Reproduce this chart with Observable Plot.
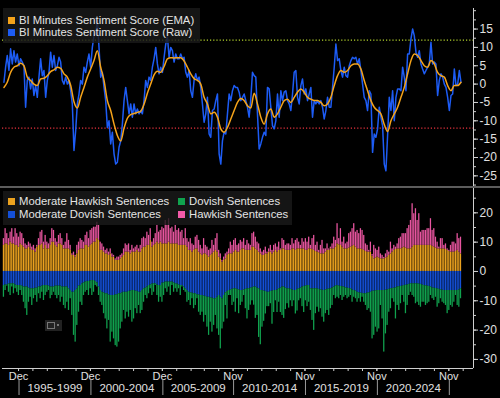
<!DOCTYPE html>
<html><head><meta charset="utf-8">
<script src="https://cdn.jsdelivr.net/npm/d3@7"></script>
<script src="https://cdn.jsdelivr.net/npm/@observablehq/plot@0.6"></script>
<style>
html,body{margin:0;padding:0;background:#000;}
#wrap{position:relative;width:500px;height:398px;background:#000;overflow:hidden;font-family:"Liberation Sans",Arial,sans-serif;}
#wrap svg{position:absolute;left:0;}
.lg{position:absolute;background:rgba(26,26,26,0.82);}
.it{position:absolute;color:#e4e4e4;font-size:11.3px;line-height:12px;white-space:nowrap;}
.sq{position:absolute;width:7px;height:7px;}
.sep{position:absolute;left:0;top:186px;width:500px;height:2px;background:#5c5c5c;}
.icon{position:absolute;left:45px;top:320px;width:17px;height:11px;background:#222;}
.icon i{position:absolute;left:2px;top:2px;width:6px;height:5px;border:1px solid #777;}
.icon b{position:absolute;left:12px;top:4px;width:2px;height:2px;background:#777;}
</style></head>
<body><div id="wrap"></div>
<script>
// time span covered by the samples (decimal years)
const startYear = 1993.90, endYear = 2025.68;

const rawScore = [
0.5,4.6,7.8,3.7,9.6,5.5,9.1,6.0,8.2,5.0,
6.9,6.0,5.0,-6.3,1.0,1.9,-1.3,1.4,-3.1,-0.4,
-3.6,1.9,6.9,2.3,3.7,-3.6,1.0,3.2,8.7,4.6,
7.8,3.7,5.0,7.3,6.0,1.0,0.0,1.9,0.0,1.0,
-1.8,-5.4,-18.1,-12.7,-5.4,-2.7,1.0,0.0,4.6,3.2,
6.0,8.2,4.6,10.0,13.2,13.7,17.3,10.0,1.9,3.2,
-0.9,-4.5,-11.8,-10.0,-16.3,-13.1,-19.0,-21.8,-21.3,-17.2,
-15.5,-10.9,-4.5,-0.9,-4.5,-8.1,-5.4,-9.0,-5.4,-8.1,
-6.8,-8.1,-7.2,-8.1,-4.5,1.0,-0.9,1.9,1.0,4.6,
6.9,10.0,5.5,2.8,4.6,3.2,7.3,10.9,13.0,7.3,
10.0,9.1,6.0,8.2,6.9,6.9,8.2,6.9,7.3,3.2,
1.9,3.7,-1.8,-3.6,1.0,2.8,1.0,1.9,-0.9,-5.4,
-10.4,-8.1,-3.6,-13.6,-14.5,-7.2,-6.8,-4.5,-2.7,-19.0,
-21.8,-15.4,-13.1,-13.6,-8.1,-2.7,-4.5,-1.8,-0.4,-0.9,
-0.9,-2.2,-4.5,-3.6,-2.7,-4.5,-6.3,-9.0,-4.0,3.2,
2.3,1.9,-8.1,-17.7,-16.3,-14.5,-13.1,-14.0,-0.9,-1.3,
-6.3,-11.3,-12.2,-10.0,-2.7,-9.0,-1.8,-4.5,-2.2,-1.8,
-4.5,-5.4,-7.2,-2.7,3.2,3.7,-3.6,-5.4,-0.4,1.4,
-2.7,-1.3,-4.5,-2.7,-0.9,-9.0,-4.5,-5.4,-4.5,-5.4,
-4.5,-6.3,-9.5,-7.2,-3.6,-6.3,-6.3,-0.9,4.6,10.9,
6.4,6.9,3.7,1.9,4.6,2.3,1.9,5.0,6.4,7.3,
6.9,7.3,5.5,6.9,3.7,0.0,-3.6,-4.5,-7.2,-1.8,
-2.7,-18.6,-13.6,-14.5,-12.2,-6.3,-9.0,-11.3,-21.8,-23.6,
-14.0,-3.6,-7.2,-1.8,-10.0,-3.6,-1.3,-1.3,-1.8,4.6,
1.9,-1.8,8.2,8.2,12.3,15.0,13.2,8.7,7.3,9.1,
5.5,4.1,2.8,3.7,4.6,5.5,11.4,5.5,6.0,5.5,
-3.1,1.0,2.8,1.9,0.0,-0.9,-3.6,-7.2,-3.1,-2.7,
4.1,-0.4,0.0,3.7,0.5];

// EMA read at every second sample
const emaScore = [
-0.9,0.5,3.2,4.6,5.0,5.7,5.0,1.9,1.0,0.0,
-0.4,1.4,1.6,2.3,3.4,3.9,4.6,4.3,2.8,1.9,
-0.3,-4.8,-6.5,-3.6,-0.9,1.9,4.1,6.4,9.1,4.6,
1.0,-4.5,-7.2,-10.9,-14.0,-15.5,-12.0,-9.3,-8.3,-8.0,
-7.7,-7.4,-5.5,-2.5,0.0,2.5,3.5,3.2,4.8,6.9,
7.2,7.1,7.2,7.2,6.3,4.6,2.8,1.5,1.0,0.0,
-3.6,-5.4,-8.1,-7.7,-9.0,-12.2,-13.1,-11.8,-9.5,-7.2,
-5.0,-3.9,-4.5,-5.9,-6.5,-2.5,-5.4,-9.0,-10.9,-8.1,
-6.8,-9.0,-8.1,-6.3,-4.5,-4.1,-5.0,-3.6,-2.2,-1.3,
-2.2,-3.6,-4.1,-4.5,-4.5,-5.0,-5.9,-5.4,-3.6,-0.4,
2.3,3.7,3.2,3.7,5.0,5.5,5.5,4.1,1.0,-1.8,
-4.5,-6.3,-7.2,-8.1,-11.0,-12.9,-10.0,-8.1,-6.3,-3.6,
-0.9,2.8,6.4,8.2,7.8,6.4,5.0,4.6,6.4,5.5,
3.2,2.3,1.9,-0.4,-1.8,-0.4,-0.4,0.5];

const modHawkish = [
8.9,9.4,9.4,8.9,10.0,9.4,9.4,8.9,8.9,8.3,
9.4,8.9,8.3,7.7,7.7,8.3,7.7,7.2,7.2,6.6,
8.3,8.9,8.9,9.4,7.7,8.9,7.7,7.7,8.9,10.0,
10.0,8.9,8.3,9.4,9.4,8.9,7.7,7.7,7.7,7.7,
7.2,5.5,5.5,4.9,6.0,7.2,7.7,7.7,7.7,8.9,
8.9,8.3,8.9,9.4,10.0,10.0,11.2,10.6,7.2,7.2,
6.6,6.0,6.0,5.5,6.0,4.9,4.9,3.8,3.8,3.8,
4.3,4.9,5.5,6.6,6.6,6.6,6.0,6.6,6.6,6.6,
7.2,6.6,6.6,7.7,8.3,8.3,8.9,8.9,10.6,8.3,
8.9,9.4,10.0,9.4,10.0,
9.4,9.4,9.4,9.4,10.0,9.4,9.4,9.4,9.4,9.4,
8.9,8.9,8.9,8.9,8.9,8.3,7.2,7.2,6.6,7.2,
7.7,7.7,6.6,6.0,5.5,6.0,6.0,5.5,4.9,5.5,
6.0,6.6,7.2,6.6,4.9,4.3,3.2,3.8,4.3,5.5,
6.0,6.0,6.0,6.6,7.2,6.6,6.6,7.2,7.7,7.7,
7.2,7.2,7.2,7.2,8.3,8.3,7.7,7.2,6.6,6.0,
5.5,5.5,6.0,6.0,6.6,6.6,6.0,6.6,7.2,6.6,
7.2,7.2,7.7,7.7,7.2,7.2,7.2,7.2,7.7,7.7,
7.2,7.7,7.7,7.7,7.7,7.7,7.2,7.2,7.7,
7.7,7.5,7.2,6.8,6.6,6.4,6.0,6.0,6.0,6.6,
7.2,7.2,7.7,7.7,7.7,8.3,9.4,9.1,8.9,8.3,
7.7,7.7,7.7,8.0,8.3,8.6,8.9,8.3,7.7,7.7,
7.7,7.5,7.2,6.8,6.6,6.6,6.6,5.2,4.3,4.6,
4.9,4.6,4.3,4.3,4.3,4.6,4.9,5.5,6.0,6.6,
7.2,7.5,7.7,7.7,7.7,8.0,8.3,8.0,7.7,7.7,
7.7,8.3,8.9,8.9,8.9,8.9,8.9,8.9,8.9,8.9,
8.9,8.9,8.9,8.6,8.3,8.0,7.7,7.7,7.7,7.7,
7.7,7.5,7.2,6.8,6.6,6.6,6.6,6.8,7.2,6.6,
6.0];

const hawkish = [
2.3,5.2,3.5,2.3,3.4,5.2,2.3,5.7,4.0,3.4,
4.0,4.0,2.9,1.7,1.2,1.7,1.7,1.1,1.7,1.1,
0.6,2.3,4.5,4.6,2.3,3.4,2.3,1.7,2.3,4.6,
4.0,2.3,1.7,2.9,3.5,2.3,1.2,2.3,5.2,2.9,
1.7,0.5,1.1,0.6,2.9,2.8,3.5,2.9,2.3,3.4,
4.5,2.9,5.1,5.2,5.1,5.1,5.6,5.1,2.8,2.2,
1.7,1.2,1.7,1.1,1.7,1.1,0.6,0.5,1.1,1.1,
1.2,1.1,2.2,2.8,2.3,2.8,1.2,2.3,1.1,1.7,
1.7,1.1,2.3,3.5,3.4,2.9,4.5,3.4,4.0,1.7,
2.3,3.5,5.7,4.0,4.0,
5.7,5.2,8.0,6.3,8.0,5.2,5.7,4.0,6.3,4.6,
5.7,4.5,5.1,2.3,5.7,2.9,2.8,4.0,2.8,1.7,
4.0,4.6,4.0,2.9,2.2,5.2,2.9,2.8,2.3,2.2,
4.6,2.3,4.0,6.3,2.3,1.7,0.6,1.1,1.7,1.1,
1.7,4.0,2.9,4.0,4.0,2.3,2.8,3.4,2.3,3.5,
1.7,3.4,2.2,1.7,4.6,5.1,4.0,2.8,2.8,1.7,
1.1,1.7,2.3,0.6,1.1,2.3,1.2,2.3,2.2,1.7,
2.8,0.5,3.5,2.9,1.7,2.2,2.2,1.7,3.5,1.7,
3.4,3.5,2.3,1.2,3.5,2.3,4.0,2.8,4.0,
1.2,3.7,5.1,2.1,3.4,0.8,2.9,4.6,1.7,1.1,
2.2,0.5,0.6,1.7,4.0,2.3,6.9,2.1,5.7,1.7,
4.0,1.7,2.3,4.9,5.1,6.0,7.4,5.1,6.3,5.2,
6.9,6.5,5.1,2.6,2.3,0.6,3.4,0.6,4.6,3.1,
2.3,3.7,1.7,1.2,0.5,1.4,2.3,1.1,4.0,1.1,
1.7,0.8,1.7,3.5,4.0,4.9,4.6,4.9,6.9,8.0,
9.7,14.8,10.8,12.5,8.5,10.8,4.5,5.1,5.1,5.1,
5.7,5.7,9.1,5.4,6.3,3.7,2.3,0.6,3.5,3.5,
1.2,1.9,0.5,0.4,2.3,3.4,3.4,2.6,5.7,4.6,
5.7];

const modDovish = [
-4.8,-4.6,-4.6,-4.3,-4.2,-4.2,-4.2,-4.6,-4.8,-4.8,
-4.8,-5.0,-5.3,-5.3,-5.3,-5.7,-5.9,-5.9,-5.9,-5.7,
-5.7,-5.3,-5.3,-5.0,-4.8,-4.8,-4.8,-5.0,-5.3,-5.3,
-5.3,-5.0,-5.0,-5.0,-5.0,-5.3,-5.3,-5.3,-5.3,-5.9,
-6.5,-7.1,-7.1,-6.5,-5.9,-5.0,-4.8,-4.2,-3.9,-3.6,
-3.4,-3.4,-3.2,-3.1,-3.1,-3.4,-3.9,-5.3,-6.5,-7.1,
-7.3,-7.6,-7.6,-8.0,-8.2,-8.2,-8.2,-8.0,-7.9,-7.6,
-7.6,-7.3,-7.1,-7.1,-7.1,-6.8,-6.7,-6.5,-6.5,-6.7,
-6.8,-7.1,-7.1,-6.5,-5.9,-5.7,-5.3,-4.8,-4.6,-4.3,
-4.2,-4.2,-4.6,-4.8,-4.8,
-4.0,-3.9,-3.6,-3.6,-3.6,-3.6,-3.6,-3.9,-4.2,-4.3,
-4.6,-4.8,-4.8,-5.3,-5.9,-6.5,-7.1,-7.3,-7.4,-7.6,
-7.6,-7.9,-8.0,-8.2,-8.2,-8.4,-8.5,-8.8,-8.8,-9.0,
-9.1,-9.3,-9.3,-8.8,-8.2,-8.8,-9.3,-8.2,-7.3,-6.8,
-6.5,-6.3,-6.1,-5.9,-5.9,-6.1,-6.3,-6.5,-6.5,-6.3,
-6.1,-5.9,-5.9,-5.7,-5.5,-5.3,-5.3,-5.7,-5.9,-6.5,
-6.5,-6.7,-6.8,-7.1,-7.1,-6.8,-6.7,-6.5,-6.5,-6.3,
-5.9,-5.7,-5.3,-5.3,-5.7,-5.9,-5.9,-6.1,-6.3,-6.5,
-6.5,-6.1,-5.9,-5.7,-5.3,-5.1,-5.0,-4.8,-4.8,
-5.9,-5.9,-5.9,-5.9,-5.9,-6.1,-6.3,-6.4,-6.5,-6.3,
-6.1,-6.0,-5.9,-5.6,-5.3,-5.0,-4.8,-5.0,-5.1,-5.2,
-5.3,-5.6,-5.7,-5.8,-5.9,-6.3,-6.5,-6.7,-7.1,-7.3,
-7.4,-7.5,-7.6,-7.6,-7.4,-7.3,-7.1,-6.8,-6.7,-6.6,
-6.5,-6.5,-6.5,-6.5,-6.5,-6.4,-6.3,-6.1,-5.9,-5.8,
-5.7,-5.6,-5.3,-5.2,-5.1,-5.0,-4.8,-4.7,-4.6,-4.4,
-4.2,-4.2,-4.2,-4.2,-4.2,-4.3,-4.4,-4.6,-4.8,-4.9,
-5.0,-5.1,-5.3,-5.6,-5.7,-5.8,-5.9,-6.1,-6.3,-6.4,
-6.5,-6.5,-6.5,-6.5,-6.5,-6.5,-6.5,-6.5,-6.5,-6.3,
-5.9];

const dovish = [
-4.0,-1.9,-0.4,-2.8,-4.0,-1.1,-3.4,-1.3,-2.3,-3.4,
-1.7,-3.2,-5.2,-7.4,-9.7,-4.8,-2.9,-5.7,-3.4,-2.5,
-4.8,-2.3,-4.0,-2.1,-5.1,-3.4,-2.3,-1.5,-4.0,-2.9,
-1.8,-3.2,-4.3,-3.2,-5.5,-3.5,-6.3,-7.4,-5.2,-7.4,
-2.8,-7.9,-14.7,-17.6,-12.5,-8.9,-5.7,-7.4,-4.3,-3.5,
-3.1,-4.8,-2.7,-5.1,-4.0,-1.4,-1.4,-2.9,-4.0,-4.5,
-7.1,-8.6,-12.0,-8.7,-15.9,-12.5,-14.8,-17.3,-17.9,-16.5,
-12.0,-10.0,-6.2,-9.1,-6.8,-8.8,-6.6,-10.8,-9.7,-6.0,
-7.6,-4.5,-7.3,-6.8,-4.6,-2.5,-4.0,-2.8,-1.3,-3.9,
-2.9,-0.6,-3.6,-5.7,-4.0,
-6.5,-4.3,-2.3,-3.5,-1.7,-4.6,-1.2,-3.2,-1.7,-2.8,
-1.3,-3.4,-0.5,-1.2,-1.2,-4.0,-2.8,-4.3,-1.9,-5.1,
-4.0,-1.4,-5.9,-6.8,-5.7,-8.9,-6.5,-10.2,-13.0,-8.3,
-11.6,-9.1,-5.7,-10.8,-13.6,-17.6,-10.3,-9.1,-4.3,-9.4,
-1.7,-1.9,-5.5,-4.6,-8.0,-3.2,-8.1,-5.1,-4.0,-1.9,
-6.6,-10.3,-7.4,-5.8,-4.5,-6.2,-10.7,-9.3,-16.6,-18.5,
-12.5,-10.3,-7.7,-4.9,-4.9,-4.2,-11.3,-7.5,-3.5,-7.7,
-4.6,-8.3,-9.7,-10.7,-7.3,-5.1,-6.6,-3.9,-5.7,-3.5,
-8.0,-7.4,-4.1,-3.6,-6.7,-8.9,-5.0,-7.2,-5.7,
-7.4,-10.8,-14.2,-8.5,-6.3,-7.8,-6.4,-9.2,-10.8,-8.1,
-7.2,-9.0,-6.8,-6.0,-2.9,-4.3,-4.0,-4.3,-3.1,-4.7,
-3.5,-2.6,-3.6,-3.0,-2.3,-4.2,-2.3,-2.6,-3.4,-2.0,
-3.1,-1.3,-2.9,-4.0,-5.9,-5.4,-6.8,-16.2,-15.1,-12.4,
-14.2,-13.1,-5.1,-9.7,-21.0,-14.9,-12.1,-7.8,-6.8,-3.5,
-4.8,-10.6,-6.3,-8.1,-5.9,-3.2,-5.7,-9.7,-7.0,-3.8,
-2.9,-4.0,-4.6,-6.8,-6.3,-7.3,-7.8,-5.9,-5.7,-6.7,
-6.0,-5.4,-2.9,-3.7,-4.2,-3.0,-6.3,-4.9,-3.0,-4.1,
-4.5,-5.1,-7.9,-6.8,-5.1,-5.7,-4.0,-1.7,-5.1,-5.9,
-3.4];

const topTicks = [-25,-20,-15,-10,-5,0,5,10,15];
const bottomTicks = [-30,-20,-10,0,10,20];
const upperThreshold = [12];
const lowerThreshold = [-12];
const dateTickLabels = ["Dec","Dec","Dec","Nov","Nov","Nov","Nov"];
const dateTickDates = ["1994-12-01","1999-12-01","2004-12-01","2009-11-01","2014-11-01","2019-11-01","2024-11-01"];
const periods = ["1995-1999","2000-2004","2005-2009","2010-2014","2015-2019","2020-2024"];
const topLegend = ["BI Minutes Sentiment Score (EMA)","BI Minutes Sentiment Score (Raw)"];
const bottomLegend = ["Moderate Hawkish Sentences","Dovish Sentences","Moderate Dovish Sentences","Hawkish Sentences"];

// colours
const C_EMA = "#f5a31a", C_RAW = "#1d5cf5";
const C_MH = "#eba21f", C_H = "#e8559f", C_MD = "#1450d8", C_D = "#10a24e";
const FONT = '"Liberation Sans", Arial, sans-serif';

function toDate(y) {
  const yr = Math.floor(y);
  const a = Date.UTC(yr, 0, 1), b = Date.UTC(yr + 1, 0, 1);
  return new Date(a + (y - yr) * (b - a));
}
const n = rawScore.length;
const step = (endYear - startYear) / (n - 1);
const tYear = i => startYear + i * step;
const raw = rawScore.map((v, i) => ({date: toDate(tYear(i)), value: v}));
const ema = emaScore.map((v, j) => ({date: toDate(tYear(2 * j)), value: v}));
const half = step * 0.38;
const bars = rawScore.map((_, i) => ({
  x1: toDate(tYear(i) - half), x2: toDate(tYear(i) + half),
  mh: modHawkish[i], h: hawkish[i], md: modDovish[i], dv: dovish[i]
}));
const xDomain = [toDate(1993.80), toDate(2026.55)];
const tickDates = dateTickDates.map(s => new Date(s + "T00:00:00Z"));
const labelOf = new Map(tickDates.map((d, i) => [+d, dateTickLabels[i]]));
const yearTicks = d3.range(1994, 2026).map(y => new Date(Date.UTC(y, y < 2007 ? 11 : 10, 1)));

const topPlot = Plot.plot({
  width: 500, height: 187, marginTop: 8, marginBottom: 1, marginLeft: 2, marginRight: 27,
  style: {background: "transparent", color: "#e0e0e0", fontFamily: FONT, fontSize: "12px"},
  x: {type: "utc", domain: xDomain, axis: null, label: null},
  y: {domain: [-27.9, 20.6], label: null},
  marks: [
    Plot.ruleY(upperThreshold, {stroke: "#b4d42c", strokeWidth: 1.2, strokeDasharray: "1.2,2"}),
    Plot.ruleY(lowerThreshold, {stroke: "#e8323e", strokeWidth: 1.2, strokeDasharray: "1.2,2"}),
    Plot.line(raw, {x: "date", y: "value", stroke: C_RAW, strokeWidth: 1.5}),
    Plot.line(ema, {x: "date", y: "value", stroke: C_EMA, strokeWidth: 1.5, curve: "monotone-x"}),
    Plot.ruleX([xDomain[1]], {stroke: "#cfcfcf", strokeWidth: 1}),
    Plot.axisY(d3.range(-27.5, 20.1, 2.5), {anchor: "right", tickSize: 2, tickFormat: () => "", stroke: "#cfcfcf"}),
    Plot.axisY(topTicks, {anchor: "right", tickSize: 4, tickPadding: 2, tickFormat: d => String(d), fontSize: 12, stroke: "#cfcfcf"})
  ]
});

const bottomPlot = Plot.plot({
  width: 500, height: 211, marginTop: 1, marginBottom: 30, marginLeft: 2, marginRight: 27,
  style: {background: "transparent", color: "#e0e0e0", fontFamily: FONT, fontSize: "12px"},
  x: {type: "utc", domain: xDomain, label: null},
  y: {domain: [-33.1, 28.3], label: null},
  marks: [
    Plot.rect(bars, {x1: "x1", x2: "x2", y1: 0, y2: "mh", fill: C_MH}),
    Plot.rect(bars, {x1: "x1", x2: "x2", y1: "mh", y2: d => d.mh + d.h, fill: C_H}),
    Plot.rect(bars, {x1: "x1", x2: "x2", y1: 0, y2: "md", fill: C_MD}),
    Plot.rect(bars, {x1: "x1", x2: "x2", y1: "md", y2: d => d.md + d.dv, fill: C_D}),
    Plot.ruleX([xDomain[1]], {stroke: "#cfcfcf", strokeWidth: 1}),
    Plot.ruleY([-33.1], {stroke: "#cfcfcf", strokeWidth: 1}),
    Plot.axisY(d3.range(-30, 26, 5), {anchor: "right", tickSize: 2, tickFormat: () => "", stroke: "#cfcfcf"}),
    Plot.axisY(bottomTicks, {anchor: "right", tickSize: 4, tickPadding: 2, tickFormat: d => String(d), fontSize: 12, stroke: "#cfcfcf"}),
    Plot.axisX(yearTicks, {tickSize: 3, tickFormat: () => "", stroke: "#cfcfcf"}),
    Plot.axisX(tickDates, {tickSize: 3, tickPadding: 1, tickFormat: d => labelOf.get(+d), fontSize: 11, stroke: "#cfcfcf"})
  ]
});

const wrap = document.getElementById("wrap");
topPlot.style.top = "0px";
bottomPlot.style.top = "187px";
wrap.appendChild(topPlot);
wrap.appendChild(bottomPlot);

// period row under the date axis, positioned with Plot's x scale
const xs = bottomPlot.scale("x");
const g = d3.select(bottomPlot).append("g");
tickDates.forEach(d => {
  const px = xs.apply(d) + 1;
  g.append("line").attr("x1", px).attr("x2", px).attr("y1", 193).attr("y2", 208)
    .attr("stroke", "#9a9a9a").attr("stroke-width", 1);
});
periods.forEach((p, i) => {
  const px = (xs.apply(tickDates[i]) + xs.apply(tickDates[i + 1])) / 2 + 1;
  g.append("text").attr("x", px).attr("y", 205).attr("text-anchor", "middle")
    .attr("fill", "#e0e0e0").style("font-size", "11.5px").style("font-family", FONT).text(p);
});

const sep = document.createElement("div"); sep.className = "sep"; wrap.appendChild(sep);

function legend(box, items) {
  const lg = document.createElement("div");
  lg.className = "lg";
  Object.assign(lg.style, {left: box[0] + "px", top: box[1] + "px", width: box[2] + "px", height: box[3] + "px"});
  wrap.appendChild(lg);
  items.forEach(([label, color, x, y]) => {
    const s = document.createElement("div"); s.className = "sq";
    Object.assign(s.style, {left: x + "px", top: (y - 3.5) + "px", background: color});
    wrap.appendChild(s);
    const t = document.createElement("div"); t.className = "it"; t.textContent = label;
    Object.assign(t.style, {left: (x + 11) + "px", top: (y - 6.5) + "px"});
    wrap.appendChild(t);
  });
}
legend([3, 8, 197, 35], [[topLegend[0], C_EMA, 8, 20.5], [topLegend[1], C_RAW, 8, 32.5]]);
legend([3, 191, 289, 34], [
  [bottomLegend[0], C_MH, 8, 201.5], [bottomLegend[1], C_D, 178, 201.5],
  [bottomLegend[2], C_MD, 8, 214], [bottomLegend[3], "#f25aa8", 178, 214]
]);

const icon = document.createElement("div"); icon.className = "icon";
icon.innerHTML = "<i></i><b></b>";
wrap.appendChild(icon);
</script>
</body></html>
